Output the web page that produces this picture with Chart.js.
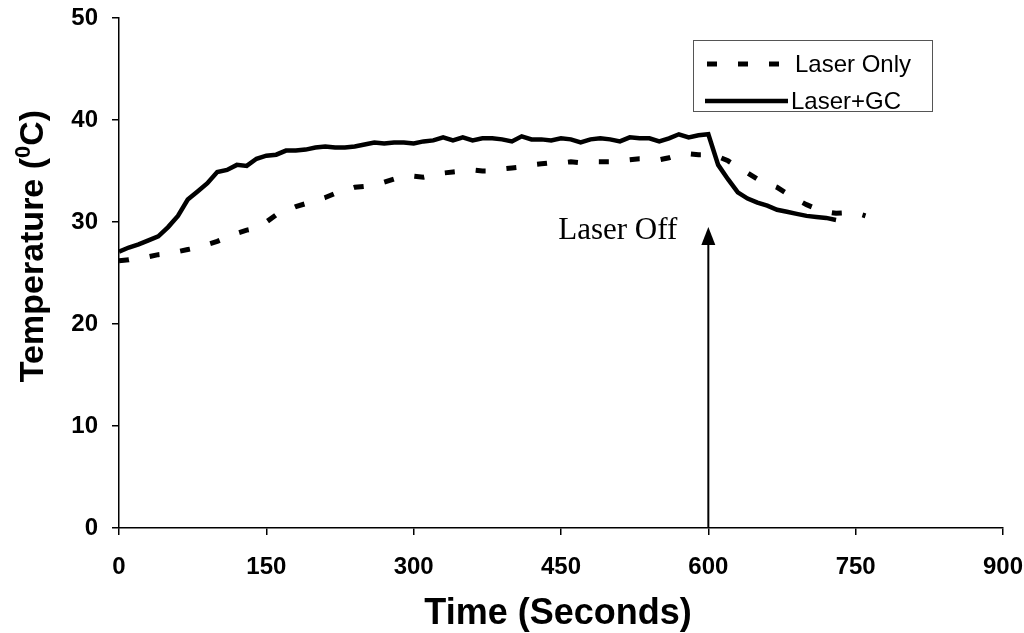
<!DOCTYPE html>
<html lang="en">
<head>
  <meta charset="UTF-8" />
  <title>Temperature vs Time</title>
  <script src="https://cdn.jsdelivr.net/npm/chart.js"></script>
  <style>
    html, body { margin: 0; padding: 0; background: #fff; }
    #wrap { width: 1024px; height: 633px; }
  </style>
</head>
<body>
<div id="wrap"><canvas id="chart" width="1024" height="633"></canvas></div>

<script>
  // time axis (seconds)
  const laserOnlyTime = [0, 10, 20, 30, 40, 50, 60, 70, 80, 90, 100, 110, 120, 130, 140, 150, 160, 170, 180, 190,
    200, 210, 220, 230, 240, 250, 260, 270, 280, 290, 300, 310, 320, 330, 340, 350, 360, 370, 380, 390,
    400, 410, 420, 430, 440, 450, 460, 470, 480, 490, 500, 510, 520, 530, 540, 550, 560, 570, 580, 590,
    600, 610, 620, 630, 640, 650, 660, 670, 680, 690, 700, 710, 720, 730, 740, 750, 760];
  const laserOnlyTemp = [26.2, 26.3, 26.5, 26.6, 26.8, 26.9, 27.1, 27.3, 27.5, 27.8, 28.1, 28.5, 28.9, 29.2, 29.4, 30.0, 30.7, 31.1, 31.5, 31.8,
    32.1, 32.4, 32.8, 33.1, 33.4, 33.5, 33.7, 33.9, 34.2, 34.5, 34.5, 34.4, 34.6, 34.8, 34.9, 35.0, 35.1, 35.0, 35.0, 35.2,
    35.3, 35.4, 35.6, 35.7, 35.8, 35.8, 35.9, 35.8, 35.9, 35.9, 35.9, 36.0, 36.1, 36.2, 36.2, 36.1, 36.3, 36.6, 36.7, 36.6,
    36.6, 36.4, 36.0, 35.4, 34.8, 34.2, 33.8, 33.4, 32.8, 32.2, 31.7, 31.3, 31.0, 30.85, 30.9, 30.9, 30.6];

  const laserGcTime = [0, 10, 20, 30, 40, 50, 60, 70, 80, 90, 100, 110, 120, 130, 140, 150, 160, 170, 180, 190,
    200, 210, 220, 230, 240, 250, 260, 270, 280, 290, 300, 310, 320, 330, 340, 350, 360, 370, 380, 390,
    400, 410, 420, 430, 440, 450, 460, 470, 480, 490, 500, 510, 520, 530, 540, 550, 560, 570, 580, 590,
    600, 610, 620, 630, 640, 650, 660, 670, 680, 690, 700, 710, 720, 730];
  const laserGcTemp = [27.1, 27.5, 27.8, 28.2, 28.6, 29.5, 30.6, 32.2, 33.0, 33.8, 34.9, 35.1, 35.6, 35.5, 36.2, 36.5, 36.6, 37.0, 37.0, 37.1,
    37.3, 37.4, 37.3, 37.3, 37.4, 37.6, 37.8, 37.7, 37.8, 37.8, 37.7, 37.9, 38.0, 38.3, 38.0, 38.3, 38.0, 38.2, 38.2, 38.1,
    37.9, 38.4, 38.1, 38.1, 38.0, 38.2, 38.1, 37.8, 38.1, 38.2, 38.1, 37.9, 38.3, 38.2, 38.2, 37.9, 38.2, 38.6, 38.3, 38.5,
    38.6, 35.6, 34.2, 32.9, 32.3, 31.9, 31.6, 31.2, 31.0, 30.8, 30.6, 30.5, 30.4, 30.2];

  const xTicks = [0, 150, 300, 450, 600, 750, 900];
  const yTicks = [0, 10, 20, 30, 40, 50];

  const seriesLabels = ['Laser Only', 'Laser+GC'];
  const laserOffTime = 600;
  const laserOffArrowTop = 29.5;

  const SANS = "'Liberation Sans', Arial, sans-serif";
  const SERIF = "'Liberation Serif', 'Times New Roman', serif";

  const toPoints = (xs, ys) => xs.map((x, i) => ({ x: x, y: ys[i] }));

  // titles, legend box and the "Laser Off" arrow
  const decorations = {
    id: 'decorations',
    afterDraw(chart) {
      const ctx = chart.ctx;
      const area = chart.chartArea;
      const xs = chart.scales.x, ys = chart.scales.y;
      ctx.save();
      ctx.fillStyle = '#000';
      ctx.strokeStyle = '#000';

      // x title
      ctx.font = 'bold 36px ' + SANS;
      ctx.textAlign = 'center';
      ctx.textBaseline = 'alphabetic';
      ctx.fillText('Time (Seconds)', (area.left + area.right) / 2 - 3, 624);

      // y title with superscript 0
      ctx.save();
      ctx.translate(43, 246);
      ctx.rotate(-Math.PI / 2);
      const big = 'bold 34px ' + SANS, small = 'bold 22px ' + SANS;
      ctx.font = big;
      const p1 = 'Temperature (', p3 = 'C)';
      const w1 = ctx.measureText(p1).width, w3 = ctx.measureText(p3).width;
      ctx.font = small;
      const w2 = ctx.measureText('0').width;
      let tx = -(w1 + w2 + w3) / 2;
      ctx.textAlign = 'left';
      ctx.font = big;
      ctx.fillText(p1, tx, 0);
      ctx.font = small;
      ctx.fillText('0', tx + w1, -13);
      ctx.font = big;
      ctx.fillText(p3, tx + w1 + w2, 0);
      ctx.restore();

      // legend
      const bx = 693, by = 40, bw = 239, bh = 71;
      ctx.lineWidth = 1;
      ctx.strokeStyle = '#555';
      ctx.strokeRect(bx + 0.5, by + 0.5, bw, bh);
      ctx.strokeStyle = '#000';
      ctx.font = '24px ' + SANS;
      ctx.textAlign = 'left';
      ctx.textBaseline = 'middle';
      const rows = [64, 101];
      chart.data.datasets.forEach((ds, i) => {
        const y = rows[i];
        ctx.beginPath();
        ctx.lineWidth = ds.borderWidth;
        ctx.setLineDash(ds.borderDash || []);
        ctx.moveTo(i === 0 ? 707 : 705, y);
        ctx.lineTo(i === 0 ? 791 : 788, y);
        ctx.stroke();
        ctx.setLineDash([]);
        ctx.fillText(ds.label, i === 0 ? 795 : 791, y + 1);
      });

      // Laser Off arrow
      const ax = xs.getPixelForValue(laserOffTime);
      const top = ys.getPixelForValue(laserOffArrowTop);
      const bottom = ys.getPixelForValue(0);
      ctx.lineWidth = 2;
      ctx.beginPath();
      ctx.moveTo(ax, bottom);
      ctx.lineTo(ax, top + 14);
      ctx.stroke();
      ctx.beginPath();
      ctx.moveTo(ax, top);
      ctx.lineTo(ax - 7, top + 18);
      ctx.lineTo(ax + 7, top + 18);
      ctx.closePath();
      ctx.fill();

      ctx.font = '31px ' + SERIF;
      ctx.textAlign = 'right';
      ctx.textBaseline = 'alphabetic';
      ctx.fillText('Laser Off', ax - 31, top + 12);

      ctx.restore();
    }
  };

  const tickFont = { family: SANS, size: 24, weight: 'bold' };

  new Chart(document.getElementById('chart'), {
    type: 'line',
    data: {
      datasets: [{
        label: seriesLabels[0],
        data: toPoints(laserOnlyTime, laserOnlyTemp),
        borderColor: '#000',
        borderWidth: 5,
        borderDash: [10, 21],
        pointRadius: 0,
        tension: 0,
        fill: false
      }, {
        label: seriesLabels[1],
        data: toPoints(laserGcTime, laserGcTemp),
        borderColor: '#000',
        borderWidth: 4.5,
        pointRadius: 0,
        tension: 0,
        fill: false
      }]
    },
    options: {
      responsive: false,
      animation: false,
      layout: { padding: { top: 18, right: 21, left: 0, bottom: 0 } },
      plugins: {
        legend: { display: false },
        tooltip: { enabled: false }
      },
      scales: {
        x: {
          type: 'linear',
          min: 0,
          max: 900,
          afterBuildTicks: s => { s.ticks = xTicks.map(v => ({ value: v })); },
          afterFit: s => { s.height = 105; s.paddingLeft = 0; s.paddingRight = 0; },
          ticks: { font: tickFont, color: '#000', padding: 18, maxRotation: 0, autoSkip: false },
          grid: { drawOnChartArea: false, drawTicks: true, tickLength: 7, color: '#000', lineWidth: 1.5 },
          border: { color: '#000', width: 1.5 }
        },
        y: {
          type: 'linear',
          min: 0,
          max: 50,
          afterBuildTicks: s => { s.ticks = yTicks.map(v => ({ value: v })); },
          afterFit: s => { s.width = 119; s.paddingTop = 0; s.paddingBottom = 0; },
          ticks: { font: tickFont, color: '#000', padding: 14 },
          grid: { drawOnChartArea: false, drawTicks: true, tickLength: 7, color: '#000', lineWidth: 1.5 },
          border: { color: '#000', width: 1.5 }
        }
      }
    },
    plugins: [decorations]
  });
</script>
</body>
</html>
